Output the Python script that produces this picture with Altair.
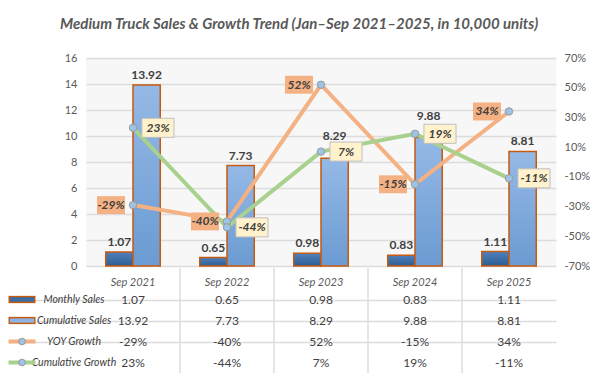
import altair as alt
import pandas as pd

categories = ["Sep 2021", "Sep 2022", "Sep 2023", "Sep 2024", "Sep 2025"]
monthly = [1.07, 0.65, 0.98, 0.83, 1.11]
cumulative = [13.92, 7.73, 8.29, 9.88, 8.81]
yoy = [-29, -40, 52, -15, 34]
cum_growth = [23, -44, 7, 19, -11]
row_names = ["Monthly Sales", "Cumulative Sales", "YOY Growth", "Cumulative Growth"]
title_text = "Medium Truck Sales & Growth Trend (Jan\u2013Sep 2021\u20132025, in 10,000 units)"

FONT = "Lato"
TEXT = "#404040"
AXIS = "#595959"
GRID = "#dcdcdc"
ORANGE = "#f4b183"
GREEN = "#a9d18e"
EDGE = "#c55a11"
PT = "#9dc3e6"

PLOT_W, PLOT_H = 470, 208
LEFT_MAX, RIGHT_MIN, RIGHT_MAX = 16, -70, 70

bars_df = pd.DataFrame({
    "cat": categories * 2,
    "series": [row_names[0]] * 5 + [row_names[1]] * 5,
    "value": monthly + cumulative,
    "growth": [float("nan")] * 5 + cum_growth,
})
# lift a cumulative-sales label when the cumulative-growth callout sits just above the bar
bar_px = (LEFT_MAX - bars_df["value"]) * PLOT_H / LEFT_MAX
growth_px = (RIGHT_MAX - bars_df["growth"]) * PLOT_H / (RIGHT_MAX - RIGHT_MIN)
clash = (growth_px > bar_px - 28) & (growth_px < bar_px + 12)
bars_df["label_pos"] = bars_df["value"] + clash.astype(float) * 12 * LEFT_MAX / PLOT_H

growth_df = pd.DataFrame({
    "cat": categories * 2,
    "series": [row_names[2]] * 5 + [row_names[3]] * 5,
    "value": yoy + cum_growth,
})
growth_df["label"] = growth_df["value"].astype(str) + "%"

# ---------------- top chart ----------------
x_top = alt.X("cat:N", sort=categories,
              scale=alt.Scale(domain=categories, paddingInner=0.42, paddingOuter=0.21),
              axis=None)
xoff = alt.XOffset("series:N", scale=alt.Scale(domain=row_names[:2], paddingInner=0, paddingOuter=0))
left_scale = alt.Scale(domain=[0, LEFT_MAX], nice=False)
left_axis = alt.Axis(values=list(range(0, 17, 2)), title=None, grid=True,
                     gridColor=GRID, gridWidth=1.5, domain=False, ticks=False,
                     labelColor=AXIS, labelFontSize=11, labelPadding=9, labelFont=FONT)
y_left = alt.Y("value:Q", scale=left_scale, axis=left_axis)

grad_dark = alt.Gradient(gradient="linear", x1=0, x2=0, y1=0, y2=1,
                         stops=[alt.GradientStop(color="#4f81bd", offset=0),
                                alt.GradientStop(color="#2e5d92", offset=1)])
grad_light = alt.Gradient(gradient="linear", x1=0, x2=0, y1=0, y2=1,
                          stops=[alt.GradientStop(color="#95b9e6", offset=0),
                                 alt.GradientStop(color="#6b9bd2", offset=1)])

base_bars = alt.Chart(bars_df)
bar_m = base_bars.transform_filter(alt.datum.series == row_names[0]).mark_bar(
    color=grad_dark, stroke=EDGE, strokeWidth=1.5).encode(x=x_top, xOffset=xoff, y=y_left)
bar_c = base_bars.transform_filter(alt.datum.series == row_names[1]).mark_bar(
    color=grad_light, stroke=EDGE, strokeWidth=1.5).encode(x=x_top, xOffset=xoff, y=y_left)
bar_lbl = base_bars.mark_text(baseline="bottom", dy=-3, font=FONT, fontWeight="bold",
                              fontSize=12, color=TEXT).encode(
    x=x_top, xOffset=xoff, y=alt.Y("label_pos:Q", scale=left_scale, axis=left_axis),
    text=alt.Text("value:Q", format=".2f"))
bars_layer = alt.layer(bar_m, bar_c, bar_lbl)

y_right = alt.Y("value:Q", scale=alt.Scale(domain=[RIGHT_MIN, RIGHT_MAX], nice=False),
                axis=alt.Axis(orient="right", values=list(range(-70, 71, 20)),
                              labelExpr="datum.value + '%'", title=None, grid=False,
                              domain=False, ticks=False, labelColor=AXIS, labelFontSize=11,
                              labelPadding=8, labelFont=FONT))
base_g = alt.Chart(growth_df)
color_g = alt.Color("series:N", scale=alt.Scale(domain=row_names[2:], range=[ORANGE, GREEN]), legend=None)
lines = base_g.mark_line(strokeWidth=4).encode(x=x_top, y=y_right, color=color_g)
points = base_g.mark_point(shape="circle", filled=True, size=55, color=PT, stroke="#9a9a9a",
                           strokeWidth=1, opacity=1).encode(x=x_top, y=y_right, detail="series:N")

yoy_f = alt.datum.series == row_names[2]
cg_f = alt.datum.series == row_names[3]
box_o = base_g.transform_filter(yoy_f).mark_point(
    shape="M-2.57,-0.64H-0.57V0.64H-2.57Z", size=784, filled=True, color=ORANGE,
    opacity=1, strokeWidth=0).encode(x=x_top, y=y_right)
txt_o = base_g.transform_filter(yoy_f).mark_text(
    dx=-22, font=FONT, fontSize=12, fontStyle="italic", fontWeight="bold", color=TEXT).encode(
    x=x_top, y=y_right, text="label:N")
box_g = base_g.transform_filter(cg_f).mark_point(
    shape="M0.64,-0.68H2.93V0.68H0.64Z", size=784, filled=True, color="#fff2cc",
    stroke="#bfbfbf", strokeWidth=1, opacity=1).encode(x=x_top, y=y_right)
txt_g = base_g.transform_filter(cg_f).mark_text(
    dx=25, font=FONT, fontSize=12, fontStyle="italic", fontWeight="bold", color=TEXT).encode(
    x=x_top, y=y_right, text="label:N")
lines_layer = alt.layer(lines, points, box_o, box_g, txt_o, txt_g)

top = alt.layer(bars_layer, lines_layer).resolve_scale(y="independent").properties(
    width=PLOT_W, height=PLOT_H, view=alt.ViewBackground(fill="#f7f7f7", stroke=None))

# ---------------- data table ----------------
row_domain = [" "] + row_names
x_tbl = alt.X("cat:N", sort=categories,
              scale=alt.Scale(domain=categories, paddingInner=0, paddingOuter=0), axis=None)
y_tbl = alt.Y("row:N", sort=row_domain,
              scale=alt.Scale(domain=row_domain, paddingInner=0, paddingOuter=0),
              axis=alt.Axis(values=row_names[:3], bandPosition=1, labels=False, domain=False,
                            tickSize=75, tickColor=GRID, tickWidth=1.5, grid=True,
                            gridColor=GRID, gridWidth=1.5, title=None))

cells = []
for name, vals, fmt in [(row_names[0], monthly, "{:.2f}"), (row_names[1], cumulative, "{:.2f}"),
                        (row_names[2], yoy, "{}%"), (row_names[3], cum_growth, "{}%")]:
    for c, v in zip(categories, vals):
        cells.append({"row": name, "cat": c, "text": fmt.format(v)})
cells_df = pd.DataFrame(cells)
header_df = pd.DataFrame({"row": [" "] * 5, "cat": categories, "text": categories})
sep_df = pd.DataFrame({"cat": categories[1:]})
rows_df = pd.DataFrame({"row": row_names})

cell_txt = alt.Chart(cells_df).mark_text(font=FONT, fontSize=12, color=TEXT).encode(
    x=x_tbl, y=y_tbl, text="text:N")
head_txt = alt.Chart(header_df).mark_text(font=FONT, fontSize=11, fontStyle="italic",
                                          color=AXIS, dy=4).encode(x=x_tbl, y=y_tbl, text="text:N")
seps = alt.Chart(sep_df).mark_rule(color=GRID, strokeWidth=1.5).encode(
    x=alt.X("cat:N", bandPosition=0, sort=categories,
            scale=alt.Scale(domain=categories, paddingInner=0, paddingOuter=0), axis=None))
row_txt = alt.Chart(rows_df).mark_text(font=FONT, fontSize=10.5, fontStyle="italic",
                                       color=TEXT).encode(y=y_tbl, x=alt.value(-12), text="row:N")

SYM_X = alt.value(-64)
bar_rows = alt.Chart(rows_df).transform_filter(
    (alt.datum.row == row_names[0]) | (alt.datum.row == row_names[1]))
line_rows = alt.Chart(rows_df).transform_filter(
    (alt.datum.row == row_names[2]) | (alt.datum.row == row_names[3]))
sym_bar_edge = bar_rows.mark_point(
    shape="M-1,-0.27H1V0.27H-1Z", size=729, filled=True, color=EDGE, strokeWidth=0,
    opacity=1).encode(y=y_tbl, x=SYM_X)
sym_bar_fill = bar_rows.mark_point(
    shape="M-0.9,-0.16H0.9V0.16H-0.9Z", size=729, filled=True, strokeWidth=0, opacity=1).encode(
    y=y_tbl, x=SYM_X,
    fill=alt.Fill("row:N", scale=alt.Scale(domain=row_names[:2], range=["#3a6ca6", "#8db4e2"]), legend=None))
sym_line = line_rows.mark_point(
    shape="M-1,-0.15H1V0.15H-1Z", size=729, filled=True, strokeWidth=0, opacity=1).encode(
    y=y_tbl, x=SYM_X,
    fill=alt.Fill("row:N", scale=alt.Scale(domain=row_names[2:], range=[ORANGE, GREEN]), legend=None))
sym_pt = line_rows.mark_point(
    shape="circle", filled=True, size=45, color=PT, stroke="#9a9a9a", strokeWidth=1,
    opacity=1).encode(y=y_tbl, x=SYM_X)

table = alt.layer(cell_txt, head_txt, seps, row_txt, sym_bar_edge, sym_bar_fill, sym_line, sym_pt
).resolve_scale(fill="independent").properties(
    width=PLOT_W, height=105, view=alt.ViewBackground(fill="white", stroke=None))

chart = alt.vconcat(top, table, spacing=2, bounds="flush").properties(
    padding={"top": 9, "left": 0, "right": 0, "bottom": 0},
    title=alt.TitleParams(title_text, font=FONT, fontSize=15,
                          fontStyle="italic", fontWeight="bold", color=AXIS,
                          anchor="middle", offset=20),
).resolve_scale(y="independent", x="independent", color="independent", fill="independent"
).configure_view(stroke=None)

chart.save("out.html", embed_options={"renderer": "svg", "actions": False})
